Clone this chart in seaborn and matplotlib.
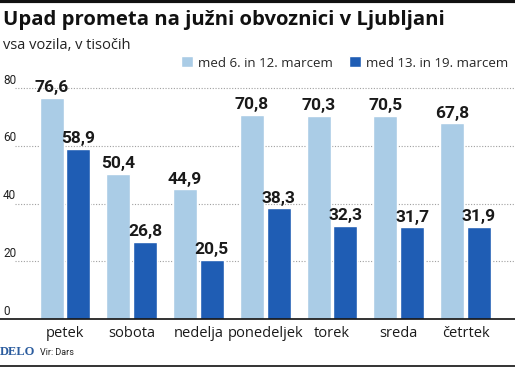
import matplotlib.pyplot as plt
import pandas as pd
import seaborn as sns

days = ["petek", "sobota", "nedelja", "ponedeljek", "torek", "sreda", "četrtek"]
week_before = [76.6, 50.4, 44.9, 70.8, 70.3, 70.5, 67.8]
week_after = [58.9, 26.8, 20.5, 38.3, 32.3, 31.7, 31.9]
series = ["med 6. in 12. marcem", "med 13. in 19. marcem"]
y_ticks = [0, 20, 40, 60, 80]

LIGHT = "#aacce6"
DARK = "#1f5db4"

df = pd.DataFrame(
    {
        "dan": days * 2,
        "vozila": week_before + week_after,
        "obdobje": [series[0]] * len(days) + [series[1]] * len(days),
    }
)

sns.set_style("white")
plt.rcParams["font.family"] = ["Open Sans", "DejaVu Sans"]

fig = plt.figure(figsize=(5.15, 3.68), dpi=100)
ax = fig.add_axes([0, 49 / 368, 1, 239 / 368])

sns.barplot(
    data=df, x="dan", y="vozila", hue="obdobje", order=days, hue_order=series,
    palette=[LIGHT, DARK], width=0.8, gap=0.1, saturation=1, ax=ax, zorder=2,
)

ax.set_xlim(-0.973, 6.74)
ax.set_ylim(0, 82.8)

# dotted grid lines with labels sitting on top of them
for t in y_ticks:
    if t > 0:
        ax.axhline(t, xmin=15 / 515, xmax=1, color="#a0a0a0", lw=0.8,
                   ls=(0, (1, 1.5)), zorder=1)
    ax.text(0.006, t + 0.5, str(t), transform=ax.get_yaxis_transform(),
            ha="left", va="bottom", fontsize=8.5, color="#222222",
            family=["Roboto", "DejaVu Sans"])

# value labels
for cont in ax.containers:
    labels = [f"{v:.1f}".replace(".", ",") for v in cont.datavalues]
    ax.bar_label(cont, labels=labels, padding=2, fontsize=12.5,
                 fontweight="bold", color="#1a1a1a",
                 family=["Roboto", "DejaVu Sans"])

ax.set_yticks([])
ax.set_xlabel("")
ax.set_ylabel("")
ax.tick_params(axis="x", length=0, pad=5, labelsize=10.5, labelcolor="#1a1a1a")
for s in ["top", "left", "right"]:
    ax.spines[s].set_visible(False)
ax.spines["bottom"].set_color("#111111")
ax.spines["bottom"].set_linewidth(1.2)

sns.move_legend(
    ax, "center left", bbox_to_anchor=(176 / 515, 305 / 368),
    bbox_transform=fig.transFigure, ncol=2, frameon=False, title=None,
    fontsize=9.5, handlelength=0.9, handleheight=0.9, handletextpad=0.4,
    columnspacing=1.2, borderaxespad=0,
)

fig.text(0.006, 0.946, "Upad prometa na južni obvoznici v Ljubljani",
         fontsize=14.6, fontweight="bold", color="#111111", va="center")
fig.text(0.006, 0.877, "vsa vozila, v tisočih", fontsize=10.5,
         color="#222222", va="center")
fig.text(0.0, 0.043, "DELO", fontsize=9, fontweight="bold", color="#2b5c9e",
         family=["Liberation Serif", "DejaVu Serif"], va="center")
fig.text(0.078, 0.043, "Vir: Dars", fontsize=6.5, color="#222222",
         family=["Roboto", "DejaVu Sans"], va="center")

fig.add_artist(plt.Line2D([0, 1], [0.996, 0.996], color="#111111", lw=3,
                          transform=fig.transFigure))
fig.add_artist(plt.Line2D([0, 1], [0.006, 0.006], color="#111111", lw=1.2,
                          transform=fig.transFigure))

fig.savefig("out.png", dpi=100)
